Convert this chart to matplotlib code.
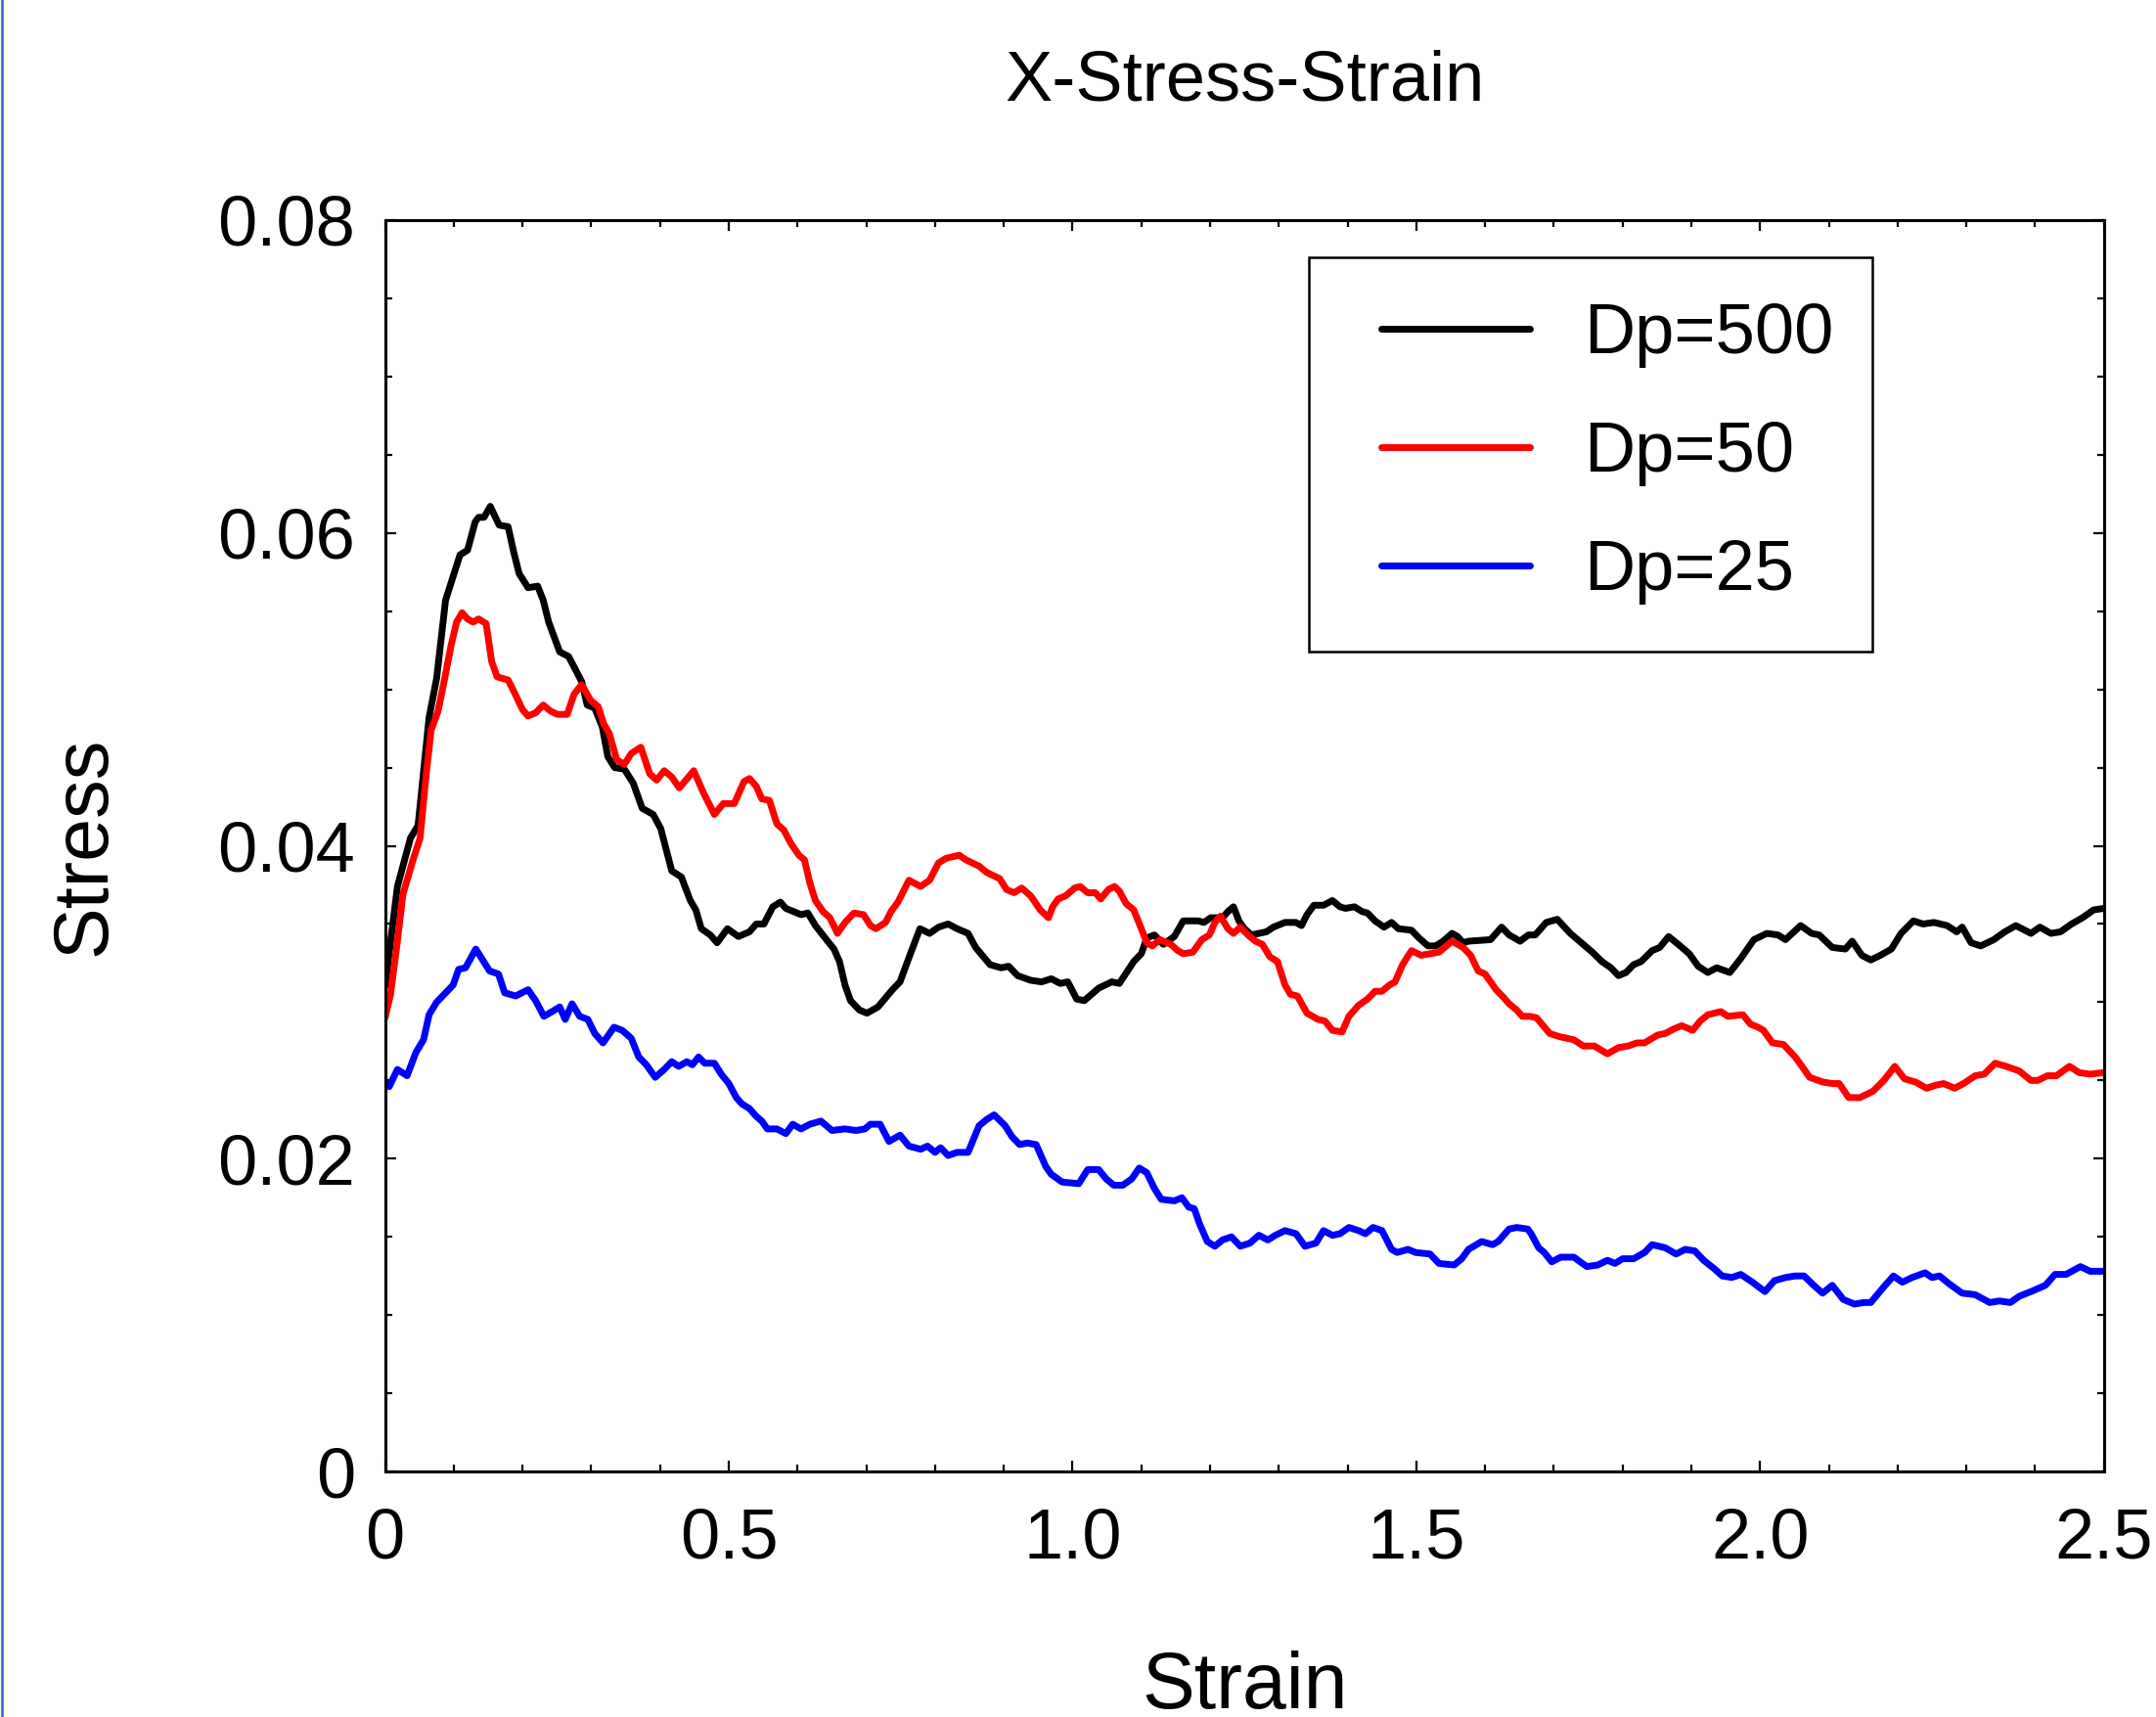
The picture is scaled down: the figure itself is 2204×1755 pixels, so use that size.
import matplotlib
matplotlib.use("Agg")
import matplotlib.pyplot as plt
from matplotlib.lines import Line2D
from matplotlib.patches import Rectangle
from matplotlib.ticker import MultipleLocator

plt.rcParams['font.family'] = ['Liberation Sans', 'DejaVu Sans']

# Dp=500
black_x = [0.000, 0.018, 0.037, 0.048, 0.064, 0.075, 0.088, 0.096, 0.109, 0.120, 0.131, 0.136, 0.144, 0.153,
           0.166, 0.179, 0.187, 0.195, 0.208, 0.222, 0.230, 0.238, 0.254, 0.267, 0.286, 0.294, 0.305, 0.316,
           0.324, 0.334, 0.348, 0.361, 0.374, 0.390, 0.401, 0.417, 0.431, 0.444, 0.452, 0.460, 0.473, 0.483,
           0.498, 0.514, 0.530, 0.540, 0.551, 0.564, 0.575, 0.583, 0.605, 0.615, 0.626, 0.642, 0.653, 0.661,
           0.669, 0.677, 0.690, 0.701, 0.717, 0.738, 0.749, 0.765, 0.778, 0.792, 0.805, 0.819, 0.832, 0.848,
           0.859, 0.880, 0.896, 0.907, 0.920, 0.939, 0.955, 0.969, 0.982, 0.993, 1.006, 1.017, 1.038, 1.057,
           1.068, 1.089, 1.100, 1.108, 1.119, 1.132, 1.148, 1.161, 1.183, 1.191, 1.201, 1.218, 1.226, 1.234,
           1.242, 1.250, 1.260, 1.282, 1.292, 1.309, 1.325, 1.333, 1.341, 1.351, 1.365, 1.378, 1.389, 1.397,
           1.410, 1.421, 1.429, 1.440, 1.453, 1.464, 1.474, 1.493, 1.504, 1.517, 1.528, 1.539, 1.552, 1.560,
           1.568, 1.576, 1.608, 1.624, 1.635, 1.651, 1.663, 1.673, 1.689, 1.705, 1.724, 1.740, 1.756, 1.770,
           1.783, 1.794, 1.805, 1.816, 1.827, 1.843, 1.854, 1.867, 1.881, 1.897, 1.910, 1.924, 1.937, 1.956,
           1.972, 1.991, 2.010, 2.026, 2.037, 2.059, 2.075, 2.086, 2.105, 2.124, 2.134, 2.148, 2.161, 2.175,
           2.191, 2.205, 2.223, 2.237, 2.253, 2.272, 2.286, 2.294, 2.307, 2.321, 2.340, 2.356, 2.372, 2.394,
           2.407, 2.423, 2.437, 2.453, 2.469, 2.485, 2.500]
black_y = [0.0310, 0.0374, 0.0405, 0.0413, 0.0482, 0.0507, 0.0557, 0.0568, 0.0586, 0.0589, 0.0607, 0.0610, 0.0610, 0.0617,
           0.0605, 0.0604, 0.0588, 0.0574, 0.0565, 0.0566, 0.0557, 0.0543, 0.0524, 0.0521, 0.0505, 0.0490, 0.0488, 0.0476,
           0.0457, 0.0450, 0.0449, 0.0440, 0.0424, 0.0420, 0.0411, 0.0384, 0.0380, 0.0365, 0.0359, 0.0347, 0.0343, 0.0338,
           0.0347, 0.0342, 0.0345, 0.0350, 0.0350, 0.0361, 0.0364, 0.0360, 0.0356, 0.0357, 0.0349, 0.0340, 0.0334, 0.0326,
           0.0311, 0.0301, 0.0295, 0.0293, 0.0297, 0.0308, 0.0313, 0.0332, 0.0347, 0.0344, 0.0348, 0.0350, 0.0347, 0.0344,
           0.0335, 0.0324, 0.0322, 0.0323, 0.0317, 0.0314, 0.0313, 0.0315, 0.0312, 0.0313, 0.0302, 0.0301, 0.0309, 0.0313,
           0.0312, 0.0326, 0.0331, 0.0341, 0.0343, 0.0337, 0.0342, 0.0352, 0.0352, 0.0351, 0.0354, 0.0354, 0.0358, 0.0361,
           0.0352, 0.0347, 0.0343, 0.0345, 0.0348, 0.0351, 0.0351, 0.0349, 0.0356, 0.0362, 0.0362, 0.0365, 0.0361, 0.0360,
           0.0361, 0.0358, 0.0357, 0.0352, 0.0348, 0.0351, 0.0347, 0.0346, 0.0341, 0.0336, 0.0336, 0.0339, 0.0344, 0.0342,
           0.0338, 0.0339, 0.0340, 0.0348, 0.0343, 0.0339, 0.0343, 0.0343, 0.0351, 0.0353, 0.0344, 0.0338, 0.0332, 0.0326,
           0.0322, 0.0317, 0.0319, 0.0324, 0.0326, 0.0333, 0.0335, 0.0342, 0.0337, 0.0331, 0.0323, 0.0319, 0.0322, 0.0319,
           0.0328, 0.0340, 0.0344, 0.0343, 0.0340, 0.0349, 0.0344, 0.0343, 0.0335, 0.0334, 0.0339, 0.0330, 0.0327, 0.0330,
           0.0334, 0.0344, 0.0352, 0.0350, 0.0351, 0.0349, 0.0345, 0.0348, 0.0338, 0.0336, 0.0340, 0.0345, 0.0349, 0.0344,
           0.0348, 0.0344, 0.0345, 0.0350, 0.0354, 0.0359, 0.0360]

# Dp=50
red_x = [0.000, 0.008, 0.016, 0.026, 0.040, 0.051, 0.059, 0.067, 0.077, 0.085, 0.096, 0.104, 0.112, 0.120,
         0.128, 0.136, 0.147, 0.155, 0.163, 0.179, 0.187, 0.200, 0.208, 0.219, 0.230, 0.241, 0.251, 0.265,
         0.275, 0.286, 0.299, 0.310, 0.318, 0.326, 0.337, 0.348, 0.358, 0.372, 0.385, 0.395, 0.406, 0.417,
         0.428, 0.449, 0.463, 0.479, 0.492, 0.508, 0.522, 0.530, 0.540, 0.548, 0.559, 0.570, 0.580, 0.591,
         0.602, 0.610, 0.618, 0.626, 0.637, 0.647, 0.658, 0.669, 0.682, 0.696, 0.706, 0.714, 0.728, 0.736,
         0.746, 0.762, 0.779, 0.792, 0.805, 0.816, 0.835, 0.845, 0.864, 0.875, 0.894, 0.904, 0.915, 0.926,
         0.939, 0.953, 0.965, 0.971, 0.979, 0.990, 1.003, 1.011, 1.022, 1.033, 1.041, 1.052, 1.061, 1.068,
         1.078, 1.089, 1.100, 1.108, 1.116, 1.127, 1.143, 1.153, 1.161, 1.175, 1.188, 1.199, 1.207, 1.215,
         1.226, 1.234, 1.244, 1.255, 1.266, 1.276, 1.287, 1.298, 1.309, 1.317, 1.327, 1.341, 1.357, 1.367,
         1.378, 1.392, 1.402, 1.416, 1.429, 1.440, 1.450, 1.461, 1.469, 1.480, 1.493, 1.507, 1.520, 1.533,
         1.552, 1.568, 1.579, 1.590, 1.600, 1.616, 1.627, 1.635, 1.646, 1.654, 1.665, 1.675, 1.694, 1.708,
         1.729, 1.743, 1.759, 1.778, 1.794, 1.808, 1.821, 1.832, 1.851, 1.862, 1.875, 1.886, 1.902, 1.913,
         1.924, 1.943, 1.953, 1.975, 1.986, 1.997, 2.005, 2.018, 2.034, 2.051, 2.061, 2.072, 2.091, 2.105,
         2.115, 2.129, 2.145, 2.164, 2.180, 2.196, 2.210, 2.226, 2.242, 2.256, 2.267, 2.283, 2.296, 2.313,
         2.326, 2.342, 2.358, 2.377, 2.394, 2.404, 2.418, 2.431, 2.450, 2.464, 2.480, 2.500]
red_y = [0.0290, 0.0305, 0.0332, 0.0369, 0.0390, 0.0405, 0.0442, 0.0474, 0.0486, 0.0503, 0.0528, 0.0543, 0.0549, 0.0545,
         0.0543, 0.0545, 0.0542, 0.0518, 0.0508, 0.0506, 0.0499, 0.0487, 0.0483, 0.0485, 0.0490, 0.0486, 0.0484, 0.0484,
         0.0497, 0.0503, 0.0493, 0.0489, 0.0478, 0.0472, 0.0455, 0.0452, 0.0459, 0.0463, 0.0446, 0.0442, 0.0448, 0.0444,
         0.0437, 0.0448, 0.0434, 0.0420, 0.0427, 0.0427, 0.0441, 0.0443, 0.0438, 0.0430, 0.0429, 0.0414, 0.0410, 0.0401,
         0.0394, 0.0391, 0.0376, 0.0365, 0.0358, 0.0354, 0.0344, 0.0351, 0.0357, 0.0356, 0.0349, 0.0347, 0.0351, 0.0358,
         0.0364, 0.0378, 0.0374, 0.0378, 0.0389, 0.0392, 0.0394, 0.0391, 0.0387, 0.0383, 0.0379, 0.0372, 0.0370, 0.0373,
         0.0368, 0.0359, 0.0354, 0.0361, 0.0366, 0.0368, 0.0373, 0.0374, 0.0370, 0.0370, 0.0366, 0.0372, 0.0374, 0.0371,
         0.0363, 0.0359, 0.0347, 0.0338, 0.0336, 0.0340, 0.0337, 0.0333, 0.0331, 0.0332, 0.0340, 0.0343, 0.0351, 0.0355,
         0.0347, 0.0344, 0.0348, 0.0343, 0.0339, 0.0337, 0.0329, 0.0326, 0.0311, 0.0305, 0.0304, 0.0293, 0.0289, 0.0288,
         0.0282, 0.0281, 0.0291, 0.0298, 0.0302, 0.0307, 0.0307, 0.0311, 0.0313, 0.0324, 0.0333, 0.0330, 0.0331, 0.0332,
         0.0339, 0.0335, 0.0330, 0.0320, 0.0318, 0.0308, 0.0303, 0.0299, 0.0295, 0.0291, 0.0291, 0.0290, 0.0280, 0.0278,
         0.0276, 0.0272, 0.0272, 0.0267, 0.0271, 0.0272, 0.0274, 0.0274, 0.0279, 0.0280, 0.0283, 0.0285, 0.0282, 0.0288,
         0.0292, 0.0294, 0.0291, 0.0292, 0.0286, 0.0284, 0.0282, 0.0274, 0.0273, 0.0265, 0.0259, 0.0252, 0.0249, 0.0248,
         0.0248, 0.0239, 0.0239, 0.0243, 0.0250, 0.0259, 0.0251, 0.0249, 0.0245, 0.0247, 0.0248, 0.0245, 0.0248, 0.0253,
         0.0254, 0.0261, 0.0259, 0.0256, 0.0250, 0.0250, 0.0253, 0.0253, 0.0259, 0.0255, 0.0254, 0.0255]

# Dp=25
blue_x = [0.000, 0.006, 0.018, 0.032, 0.045, 0.056, 0.064, 0.075, 0.088, 0.099, 0.107, 0.117, 0.132, 0.142,
          0.152, 0.165, 0.174, 0.190, 0.208, 0.219, 0.231, 0.243, 0.254, 0.262, 0.272, 0.283, 0.295, 0.305,
          0.317, 0.333, 0.345, 0.358, 0.369, 0.380, 0.393, 0.406, 0.417, 0.427, 0.439, 0.447, 0.456, 0.465,
          0.479, 0.489, 0.500, 0.511, 0.519, 0.530, 0.540, 0.548, 0.556, 0.570, 0.583, 0.593, 0.605, 0.618,
          0.634, 0.650, 0.669, 0.685, 0.698, 0.706, 0.720, 0.733, 0.749, 0.762, 0.779, 0.789, 0.800, 0.808,
          0.819, 0.832, 0.848, 0.864, 0.875, 0.886, 0.902, 0.912, 0.923, 0.934, 0.947, 0.961, 0.969, 0.985,
          1.009, 1.022, 1.038, 1.049, 1.060, 1.073, 1.086, 1.097, 1.108, 1.119, 1.129, 1.148, 1.159, 1.169,
          1.177, 1.185, 1.196, 1.207, 1.218, 1.231, 1.244, 1.258, 1.271, 1.284, 1.295, 1.309, 1.325, 1.338,
          1.354, 1.365, 1.378, 1.389, 1.402, 1.416, 1.426, 1.437, 1.450, 1.464, 1.472, 1.488, 1.499, 1.520,
          1.533, 1.555, 1.566, 1.576, 1.595, 1.611, 1.619, 1.635, 1.646, 1.662, 1.667, 1.678, 1.686, 1.697,
          1.710, 1.729, 1.748, 1.764, 1.778, 1.789, 1.800, 1.816, 1.832, 1.843, 1.862, 1.878, 1.891, 1.905,
          1.918, 1.935, 1.945, 1.959, 1.972, 1.989, 2.007, 2.021, 2.037, 2.051, 2.064, 2.078, 2.091, 2.105,
          2.121, 2.137, 2.151, 2.161, 2.178, 2.194, 2.207, 2.221, 2.240, 2.250, 2.261, 2.275, 2.294, 2.313,
          2.334, 2.348, 2.364, 2.377, 2.394, 2.415, 2.429, 2.445, 2.466, 2.480, 2.500]
blue_y = [0.0248, 0.0246, 0.0257, 0.0253, 0.0268, 0.0276, 0.0292, 0.0300, 0.0306, 0.0311, 0.0321, 0.0322, 0.0334, 0.0327,
          0.0320, 0.0318, 0.0306, 0.0304, 0.0308, 0.0301, 0.0291, 0.0294, 0.0297, 0.0289, 0.0299, 0.0291, 0.0289, 0.0280,
          0.0274, 0.0284, 0.0282, 0.0277, 0.0265, 0.0260, 0.0252, 0.0257, 0.0262, 0.0259, 0.0262, 0.0260, 0.0265, 0.0261,
          0.0261, 0.0254, 0.0248, 0.0239, 0.0235, 0.0232, 0.0227, 0.0224, 0.0219, 0.0219, 0.0216, 0.0222, 0.0219, 0.0222,
          0.0224, 0.0218, 0.0219, 0.0218, 0.0219, 0.0222, 0.0222, 0.0211, 0.0215, 0.0208, 0.0206, 0.0208, 0.0204, 0.0207,
          0.0202, 0.0204, 0.0204, 0.0221, 0.0225, 0.0228, 0.0221, 0.0214, 0.0209, 0.0210, 0.0209, 0.0195, 0.0190, 0.0185,
          0.0184, 0.0193, 0.0193, 0.0187, 0.0183, 0.0183, 0.0187, 0.0194, 0.0191, 0.0181, 0.0174, 0.0173, 0.0175, 0.0169,
          0.0168, 0.0158, 0.0147, 0.0144, 0.0148, 0.0150, 0.0144, 0.0146, 0.0151, 0.0148, 0.0151, 0.0154, 0.0152, 0.0144,
          0.0146, 0.0154, 0.0151, 0.0152, 0.0156, 0.0154, 0.0152, 0.0156, 0.0154, 0.0142, 0.0140, 0.0142, 0.0140, 0.0139,
          0.0133, 0.0132, 0.0136, 0.0142, 0.0147, 0.0145, 0.0147, 0.0155, 0.0156, 0.0155, 0.0152, 0.0143, 0.0140, 0.0134,
          0.0137, 0.0137, 0.0131, 0.0132, 0.0135, 0.0133, 0.0136, 0.0136, 0.0140, 0.0145, 0.0143, 0.0139, 0.0142, 0.0141,
          0.0135, 0.0129, 0.0125, 0.0124, 0.0126, 0.0121, 0.0115, 0.0122, 0.0124, 0.0125, 0.0125, 0.0119, 0.0114, 0.0119,
          0.0110, 0.0107, 0.0108, 0.0108, 0.0117, 0.0125, 0.0121, 0.0124, 0.0127, 0.0124, 0.0125, 0.0120, 0.0114, 0.0113,
          0.0108, 0.0109, 0.0108, 0.0112, 0.0115, 0.0119, 0.0126, 0.0126, 0.0131, 0.0128, 0.0128]

series_labels = ["Dp=500", "Dp=50", "Dp=25"]
series_colors = ["black", "#ff0000", "#0000ff"]

x_ticks = [0, 0.5, 1.0, 1.5, 2.0, 2.5]
x_tick_labels = ["0", "0.5", "1.0", "1.5", "2.0", "2.5"]
y_ticks = [0, 0.02, 0.04, 0.06, 0.08]
y_tick_labels = ["0", "0.02", "0.04", "0.06", "0.08"]

fig = plt.figure(figsize=(22.04, 17.55), dpi=100)
ax = fig.add_axes([0.1786, 0.1430, 0.7972, 0.7288])

for xs, ys, lab, col in zip([black_x, red_x, blue_x], [black_y, red_y, blue_y], series_labels, series_colors):
    ax.plot(xs, ys, color=col, linewidth=5, label=lab, solid_joinstyle='round', solid_capstyle='round')

ax.set_xlim(0, 2.5)
ax.set_ylim(0, 0.08)
ax.set_xticks(x_ticks)
ax.set_xticklabels(x_tick_labels)
ax.set_yticks(y_ticks)
ax.set_yticklabels(y_tick_labels)
ax.xaxis.set_minor_locator(MultipleLocator(0.1))
ax.yaxis.set_minor_locator(MultipleLocator(0.005))
ax.tick_params(which='both', direction='in', top=True, right=True, width=1.6, colors='black')
ax.tick_params(which='major', length=8, labelsize=52)
ax.tick_params(which='minor', length=5)
ax.tick_params(axis='x', which='major', pad=26)
ax.tick_params(axis='y', which='major', pad=22)
for sp in ax.spines.values():
    sp.set_linewidth(2.2)

# legend entries without frame, box drawn separately
leg = ax.legend(loc='center left', bbox_to_anchor=(0.5797, 0.8133), borderaxespad=0,
                fontsize=52, frameon=False, handlelength=2.1, handletextpad=0.76,
                labelspacing=0.75, borderpad=0)
ax.add_patch(Rectangle((0.5373, 0.6550), 0.8653 - 0.5373, 0.9704 - 0.6550, transform=ax.transAxes,
                       fill=False, edgecolor='black', linewidth=1.8, zorder=5, clip_on=False))

fig.text(0.5772, 0.9415, "X-Stress-Strain", ha='center', va='baseline', fontsize=52)
fig.text(0.5772, 0.005, "Strain", ha='center', va='baseline', fontsize=58)
fig.text(0.0395, 0.5074, "Stress", ha='center', va='center', rotation=90, fontsize=57)

# thin blue border line at the left edge of the picture
fig.add_artist(Line2D([0.0008, 0.0008], [0, 1], transform=fig.transFigure, color='#2f63c4', linewidth=1.8))

fig.savefig("out.png", dpi=100)
